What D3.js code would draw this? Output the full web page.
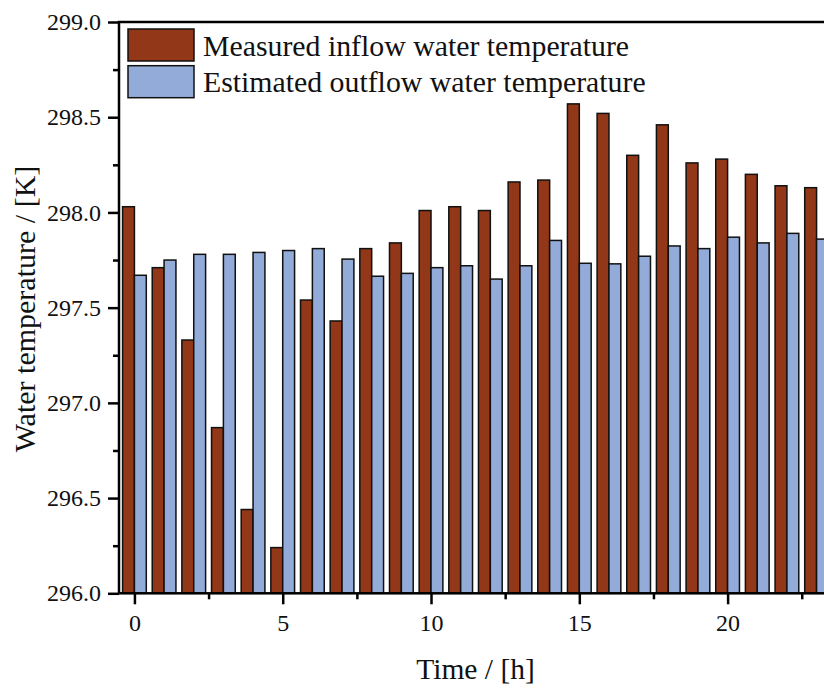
<!DOCTYPE html>
<html>
<head>
<meta charset="utf-8">
<script src="https://cdn.jsdelivr.net/npm/d3@7"></script>
<style>
  body { margin: 0; background: #fff; }
  svg { display: block; font-family: "Liberation Serif", "Times New Roman", serif; }
</style>
</head>
<body>
<svg id="chart" width="824" height="691"></svg>
<script>
/**
 * Inflow / outflow water temperature bar chart.
 */
const hours = d3.range(0, 24);
const measured = [298.03, 297.71, 297.33, 296.87, 296.44, 296.24, 297.54, 297.43,
    297.81, 297.84, 298.01, 298.03, 298.01, 298.16, 298.17, 298.57,
    298.52, 298.30, 298.46, 298.26, 298.28, 298.20, 298.14, 298.13];
const estimated = [297.67, 297.75, 297.78, 297.78, 297.79, 297.80, 297.81, 297.755,
    297.665, 297.68, 297.71, 297.72, 297.65, 297.72, 297.853, 297.733,
    297.73, 297.77, 297.824, 297.81, 297.87, 297.84, 297.89, 297.86];
const seriesNames = ['Measured inflow water temperature', 'Estimated outflow water temperature'];
const xTicks = [0, 5, 10, 15, 20];
const yTicks = [296.0, 296.5, 297.0, 297.5, 298.0, 298.5, 299.0];

/**
 * Visual configs.
 */
const colors = ['#923717', '#93abd9'],
    plotLeft = 119, plotTop = 22, plotRight = 832, plotBottom = 593.3,
    barWidth = 0.4;

const svg = d3.select('#chart');

const x = d3.scaleLinear().domain([-0.52, 23.52]).range([plotLeft, plotRight]);
const y = d3.scaleLinear().domain([296, 299]).range([plotBottom, plotTop]);

// Bars
const bars = svg.append('g').attr('class', 'bars');
[measured, estimated].forEach((values, s) => {
    bars.selectAll('.bar-' + s)
        .data(hours)
        .enter().append('rect')
        .attr('class', 'bar-' + s)
        .attr('x', d => x(d - barWidth + s * barWidth))
        .attr('width', x(barWidth) - x(0))
        .attr('y', d => y(values[d]))
        .attr('height', d => y(296) - y(values[d]))
        .attr('fill', colors[s])
        .attr('stroke', '#111')
        .attr('stroke-width', 1.5);
});

// Frame
svg.append('rect')
    .attr('x', plotLeft).attr('y', plotTop)
    .attr('width', plotRight - plotLeft).attr('height', plotBottom - plotTop)
    .attr('fill', 'none').attr('stroke', '#000').attr('stroke-width', 2.5);

// Drop d3's default axis font so the labels inherit the serif face
function styleAxis(g) {
    g.attr('font-family', null).attr('font-size', 24);
    g.select('.domain').remove();
    g.selectAll('line').attr('stroke', '#000').attr('stroke-width', 2.5);
    g.selectAll('text').attr('fill', '#111');
}

// X axis
svg.append('g').attr('transform', 'translate(0,' + plotBottom + ')')
    .call(d3.axisBottom(x).tickValues(xTicks).tickSize(11).tickPadding(10).tickFormat(d3.format('d')))
    .call(styleAxis);
svg.append('g').attr('transform', 'translate(0,' + plotBottom + ')')
    .call(d3.axisBottom(x).tickValues(d3.range(2.5, 23, 5)).tickSize(6).tickFormat(''))
    .call(styleAxis);

// Y axis
svg.append('g').attr('transform', 'translate(' + plotLeft + ',0)')
    .call(d3.axisLeft(y).tickValues(yTicks).tickSize(11).tickPadding(7).tickFormat(d3.format('.1f')))
    .call(styleAxis);
svg.append('g').attr('transform', 'translate(' + plotLeft + ',0)')
    .call(d3.axisLeft(y).tickValues(d3.range(296.25, 299, 0.5)).tickSize(6).tickFormat(''))
    .call(styleAxis);

// Axis titles
svg.append('text')
    .attr('x', (plotLeft + plotRight) / 2).attr('y', 679)
    .attr('text-anchor', 'middle')
    .style('font-size', '29.5px').attr('fill', '#111')
    .text('Time / [h]');
svg.append('text')
    .attr('transform', 'translate(35,' + 309 + ') rotate(-90)')
    .attr('text-anchor', 'middle')
    .style('font-size', '30px').attr('fill', '#111')
    .text('Water temperature / [K]');

// Legend
const legend = svg.append('g').attr('class', 'legend');
seriesNames.forEach((name, i) => {
    legend.append('rect')
        .attr('x', 128).attr('y', 29 + i * 36.7)
        .attr('width', 66).attr('height', 32)
        .attr('fill', colors[i]).attr('stroke', '#111').attr('stroke-width', 1.5);
    legend.append('text')
        .attr('x', 203).attr('y', 55.5 + i * 36.7)
        .style('font-size', '29.8px').attr('fill', '#111')
        .text(name);
});
</script>
</body>
</html>
